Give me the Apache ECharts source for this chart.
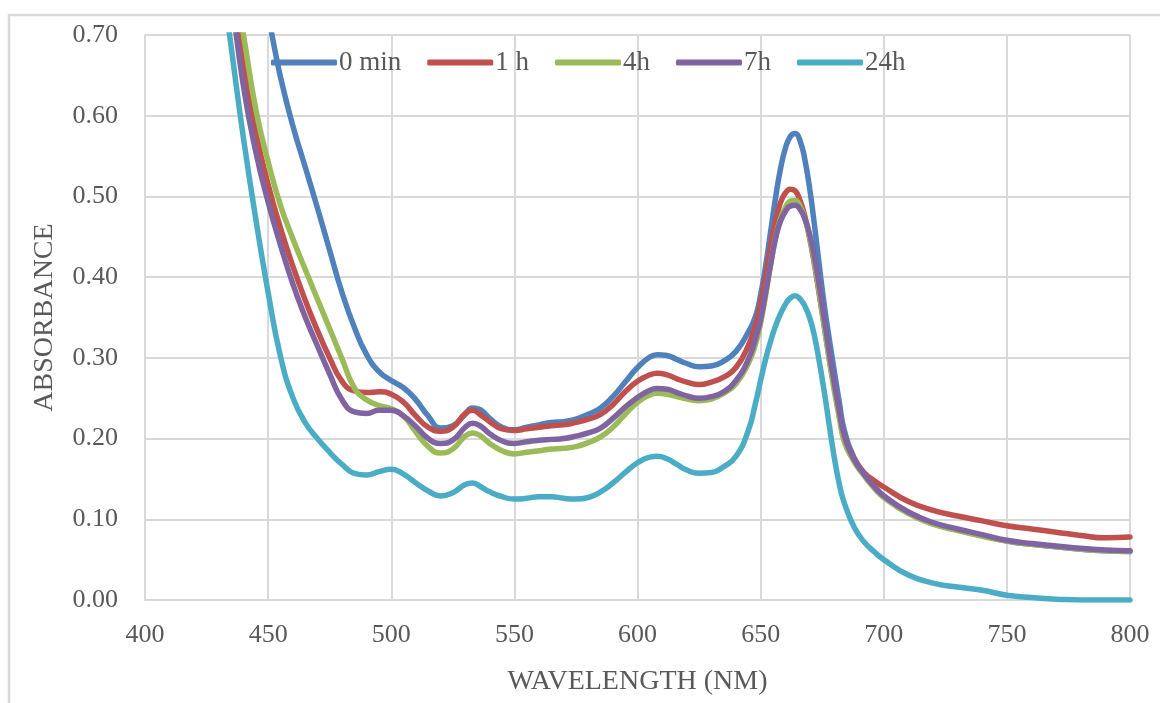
<!DOCTYPE html>
<html>
<head>
<meta charset="utf-8">
<title>Absorbance spectra</title>
<script src="https://cdn.jsdelivr.net/npm/echarts@6/dist/echarts.min.js"></script>
<style>
  html, body { margin: 0; padding: 0; background: #ffffff; }
  #chart { width: 1160px; height: 703px; }
</style>
</head>
<body>
<div id="chart"></div>
<script>
// Wavelength sampling grid (nm), shared by every spectrum; finer around the 664 nm band
const wavelengths = [
  430, 435, 440, 445, 450, 455, 460, 465, 470, 475,
  480, 485, 490, 495, 500, 505, 510, 515, 520, 525,
  530, 533, 536, 540, 545, 550, 555, 560, 565, 570,
  575, 580, 585, 590, 595, 600, 605, 608, 612, 616,
  620, 625, 630, 635, 640, 645, 648, 650, 652, 654,
  656, 658, 660, 662, 664, 666, 668, 670, 672, 674,
  676, 678, 680, 682, 684, 688, 692, 696, 700, 710,
  720, 730, 740, 750, 760, 770, 780, 790, 800
];

const seriesNames = ['0 min', '1 h', '4h', '7h', '24h'];

const abs0min = [
  1.05, 0.94, 0.85, 0.78, 0.722, 0.648, 0.588, 0.537, 0.486, 0.433,
  0.381, 0.338, 0.304, 0.283, 0.272, 0.263, 0.248, 0.228, 0.213, 0.216,
  0.23, 0.238, 0.236, 0.225, 0.214, 0.211, 0.214, 0.217, 0.22, 0.221,
  0.224, 0.23, 0.238, 0.252, 0.27, 0.288, 0.301, 0.304, 0.303, 0.298,
  0.293, 0.289, 0.29, 0.296, 0.308, 0.332, 0.352, 0.378, 0.413, 0.455,
  0.497, 0.533, 0.559, 0.574, 0.578, 0.569, 0.545, 0.508, 0.461, 0.41,
  0.362, 0.321, 0.282, 0.244, 0.21, 0.176, 0.156, 0.141, 0.129, 0.108,
  0.095, 0.087, 0.08, 0.073, 0.069, 0.066, 0.063, 0.061, 0.06
];

const abs1h = [
  0.9, 0.78, 0.672, 0.58, 0.515, 0.461, 0.414, 0.372, 0.334, 0.3,
  0.271, 0.259, 0.257, 0.258, 0.255, 0.245, 0.228, 0.214, 0.209, 0.214,
  0.231, 0.235, 0.23, 0.221, 0.212, 0.21, 0.212, 0.214, 0.216, 0.217,
  0.22, 0.224, 0.23, 0.242, 0.258, 0.271, 0.279, 0.281, 0.279, 0.274,
  0.27, 0.267, 0.27, 0.276, 0.288, 0.315, 0.342, 0.368, 0.4, 0.438,
  0.468, 0.492, 0.504, 0.509, 0.507, 0.495, 0.475, 0.447, 0.413, 0.375,
  0.336, 0.297, 0.262, 0.23, 0.203, 0.175, 0.158, 0.148, 0.14, 0.122,
  0.111, 0.104, 0.098, 0.092, 0.088, 0.084, 0.08, 0.077, 0.078
];

const abs4h = [
  0.88, 0.79, 0.7, 0.608, 0.543, 0.489, 0.448, 0.41, 0.373, 0.336,
  0.299, 0.263, 0.248, 0.241, 0.237, 0.228, 0.208, 0.19, 0.182, 0.187,
  0.203, 0.207, 0.204, 0.194, 0.185, 0.181, 0.183, 0.185, 0.187, 0.188,
  0.19, 0.195, 0.202, 0.214, 0.23, 0.245, 0.254, 0.256, 0.255, 0.252,
  0.249, 0.247, 0.249, 0.256, 0.268, 0.293, 0.318, 0.343, 0.377, 0.414,
  0.448, 0.472, 0.486, 0.494, 0.495, 0.488, 0.472, 0.448, 0.416, 0.377,
  0.336, 0.295, 0.258, 0.225, 0.196, 0.171, 0.154, 0.139, 0.127, 0.107,
  0.094, 0.086, 0.079, 0.073, 0.069, 0.066, 0.063, 0.061, 0.06
];

const abs7h = [
  0.87, 0.75, 0.636, 0.555, 0.493, 0.44, 0.392, 0.351, 0.315, 0.28,
  0.248, 0.233, 0.231, 0.235, 0.235, 0.228, 0.215, 0.2, 0.194, 0.198,
  0.214, 0.219, 0.216, 0.206, 0.197, 0.194, 0.196, 0.198, 0.199, 0.2,
  0.203, 0.207, 0.213, 0.225, 0.239, 0.251, 0.26, 0.262, 0.261, 0.257,
  0.253, 0.25, 0.252, 0.258, 0.272, 0.298, 0.325, 0.348, 0.38, 0.415,
  0.447, 0.469, 0.481, 0.488, 0.489, 0.484, 0.472, 0.452, 0.423, 0.386,
  0.346, 0.305, 0.268, 0.234, 0.204, 0.174, 0.156, 0.141, 0.129, 0.109,
  0.096, 0.088, 0.081, 0.074, 0.07, 0.067, 0.064, 0.062, 0.061
];

const abs24h = [
  0.8, 0.685, 0.572, 0.472, 0.381, 0.302, 0.251, 0.22, 0.2, 0.183,
  0.168, 0.157, 0.155, 0.159, 0.162, 0.156, 0.145, 0.135, 0.129, 0.133,
  0.143, 0.145, 0.141, 0.134, 0.128, 0.125, 0.126, 0.128, 0.128, 0.126,
  0.125, 0.127, 0.134, 0.145, 0.158, 0.17, 0.177, 0.178, 0.175, 0.168,
  0.161, 0.157, 0.158, 0.165, 0.178, 0.21, 0.245, 0.272, 0.298, 0.32,
  0.339, 0.354, 0.366, 0.374, 0.377, 0.373, 0.364, 0.349, 0.325, 0.292,
  0.255, 0.214, 0.175, 0.143, 0.12, 0.09, 0.072, 0.06, 0.05, 0.031,
  0.021, 0.016, 0.012, 0.006, 0.003, 0.001, 0, 0, 0
];

const spectra = [abs0min, abs1h, abs4h, abs7h, abs24h];
const palette = ['#4f81bd', '#c0504d', '#9bbb59', '#8064a2', '#4bacc6'];

const FONT = '"Liberation Serif", "Times New Roman", serif';
const TEXT = '#595959';
const GRID = '#d9d9d9';

const chart = echarts.init(document.getElementById('chart'), null, { renderer: 'canvas' });

chart.setOption({
  backgroundColor: '#ffffff',
  animation: false,
  color: palette,
  graphic: [{
    type: 'rect',
    silent: true,
    shape: { x: 9, y: 15, width: 1300, height: 900 },
    style: { fill: 'none', stroke: GRID, lineWidth: 2.5 },
    z: -10
  }],
  legend: {
    data: seriesNames.map(name => ({ name, icon: 'roundRect' })),
    left: 266,
    top: 44,
    itemWidth: 66,
    itemHeight: 6,
    itemGap: 26,
    textStyle: { fontFamily: FONT, fontSize: 27, color: TEXT, padding: [0, 0, 0, -3] }
  },
  grid: { left: 145, right: 30, top: 35, bottom: 103, containLabel: false },
  xAxis: {
    type: 'value',
    min: 400,
    max: 800,
    interval: 50,
    name: 'WAVELENGTH (NM)',
    nameLocation: 'middle',
    nameGap: 68,
    nameTextStyle: { fontFamily: FONT, fontSize: 28, color: TEXT },
    axisLine: { show: true, lineStyle: { color: GRID, width: 2 } },
    axisTick: { show: false },
    axisLabel: { fontFamily: FONT, fontSize: 26, color: TEXT, margin: 22 },
    splitLine: { show: true, lineStyle: { color: GRID, width: 2 } }
  },
  yAxis: {
    type: 'value',
    min: 0,
    max: 0.7,
    interval: 0.1,
    name: 'ABSORBANCE',
    nameLocation: 'middle',
    nameGap: 86,
    nameTextStyle: { fontFamily: FONT, fontSize: 28, color: TEXT },
    axisLine: { show: true, lineStyle: { color: GRID, width: 2 } },
    axisTick: { show: false },
    axisLabel: {
      fontFamily: FONT, fontSize: 26, color: TEXT, margin: 27,
      formatter: v => v.toFixed(2)
    },
    splitLine: { show: true, lineStyle: { color: GRID, width: 2 } }
  },
  series: seriesNames.map((name, k) => ({
    name,
    type: 'line',
    smooth: 0.5,
    symbol: 'none',
    clip: true,
    lineStyle: { width: 5.5, color: palette[k], cap: 'round', join: 'round' },
    itemStyle: { color: palette[k] },
    data: wavelengths.map((w, i) => [w, spectra[k][i]])
  }))
});
</script>
</body>
</html>
